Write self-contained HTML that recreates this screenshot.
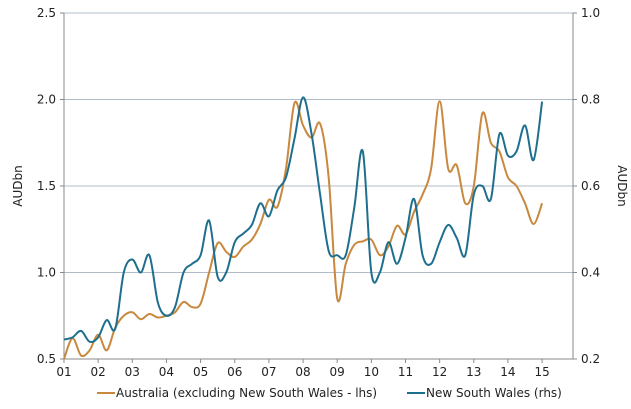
<!DOCTYPE html>
<html><head><meta charset="utf-8"><style>
body{margin:0;background:#fff}
svg text{font-family:"DejaVu Sans","Liberation Sans",sans-serif;font-size:12px;fill:#222}
</style></head><body>
<svg id="chart" width="631" height="404" viewBox="0 0 631 404" xmlns="http://www.w3.org/2000/svg">
<g id="grid"></g>
<g id="axes"></g>
<g id="series"></g>
<text transform="translate(22,186) rotate(-90)" text-anchor="middle">AUDbn</text>
<text transform="translate(618,186) rotate(90)" text-anchor="middle">AUDbn</text>
<g>
<line x1="97" y1="393" x2="115" y2="393" stroke="#c8883e" stroke-width="2"/>
<text x="116" y="397">Australia (excluding New South Wales - lhs)</text>
<line x1="407" y1="393" x2="425" y2="393" stroke="#1e6f8e" stroke-width="2"/>
<text x="426" y="397">New South Wales (rhs)</text>
</g>
</svg>
<script>
const yearLabels=["01","02","03","04","05","06","07","08","09","10","11","12","13","14","15"];
const leftTicks=[0.5,1.0,1.5,2.0,2.5];
const rightTicks=[0.2,0.4,0.6,0.8,1.0];
const ausValues=[0.5,0.62,0.52,0.55,0.64,0.55,0.68,0.75,0.77,0.73,0.76,0.74,0.75,0.77,0.83,0.80,0.82,1.0,1.17,1.12,1.09,1.15,1.19,1.28,1.42,1.38,1.6,1.98,1.85,1.78,1.86,1.55,0.85,1.05,1.16,1.18,1.19,1.10,1.15,1.27,1.22,1.35,1.45,1.6,1.99,1.6,1.62,1.40,1.5,1.92,1.75,1.7,1.55,1.5,1.4,1.28,1.4];
const nswValues=[0.245,0.25,0.265,0.24,0.25,0.29,0.27,0.40,0.43,0.40,0.44,0.33,0.30,0.32,0.40,0.42,0.44,0.52,0.39,0.40,0.47,0.49,0.51,0.56,0.53,0.59,0.62,0.71,0.805,0.72,0.58,0.45,0.44,0.44,0.55,0.68,0.40,0.40,0.47,0.42,0.48,0.57,0.44,0.42,0.47,0.51,0.48,0.44,0.58,0.60,0.57,0.72,0.67,0.68,0.74,0.66,0.795];
const NS="http://www.w3.org/2000/svg";
const L=64,R=573,T=13,B=359;
const xS=t=>L+t*34.15; // t in years since 2001
const yL=v=>B-(v-0.5)/2*(B-T);
const yR=v=>B-(v-0.2)/0.8*(B-T);
function mk(tag,attrs,parent){const e=document.createElementNS(NS,tag);for(const k in attrs)e.setAttribute(k,attrs[k]);parent.appendChild(e);return e;}
const grid=document.getElementById('grid'),axes=document.getElementById('axes'),ser=document.getElementById('series');
leftTicks.forEach((v,i)=>{
 if(i>0){const g=mk('line',{x1:L,x2:R,y1:yL(v),y2:yL(v),stroke:'#b0bcc8','stroke-width':1},grid);
 
 }
 const t=mk('text',{x:L-8,y:yL(v)+4,'text-anchor':'end'},axes);t.textContent=v.toFixed(1);
 
 
 mk('line',{x1:L-4,x2:L,y1:yL(v),y2:yL(v),stroke:'#888'},axes);
});
rightTicks.forEach(v=>{
 const t=mk('text',{x:R+8,y:yR(v)+4},axes);t.textContent=v.toFixed(1);
 
 
 mk('line',{x1:R,x2:R+4,y1:yR(v),y2:yR(v),stroke:'#888'},axes);
});
mk('line',{x1:L,x2:L,y1:T,y2:B,stroke:'#888'},axes);
mk('line',{x1:R,x2:R,y1:T,y2:B,stroke:'#888'},axes);
mk('line',{x1:L,x2:R,y1:B,y2:B,stroke:'#888'},axes);
yearLabels.forEach((s,i)=>{
 mk('line',{x1:xS(i),x2:xS(i),y1:B,y2:B+4,stroke:'#888'},axes);
 const t=mk('text',{x:xS(i),y:B+17,'text-anchor':'middle'},axes);t.textContent=s;
 
 
});
function smooth(vals,yf){
 const p=vals.map((v,i)=>[xS(i/4),yf(v)]);
 let d='M'+p[0][0]+','+p[0][1];
 for(let i=0;i<p.length-1;i++){
  const p0=p[Math.max(0,i-1)],p1=p[i],p2=p[i+1],p3=p[Math.min(p.length-1,i+2)];
  const c1=[p1[0]+(p2[0]-p0[0])/6,p1[1]+(p2[1]-p0[1])/6];
  const c2=[p2[0]-(p3[0]-p1[0])/6,p2[1]-(p3[1]-p1[1])/6];
  d+=`C${c1[0]},${c1[1]} ${c2[0]},${c2[1]} ${p2[0]},${p2[1]}`;
 }
 return d;
}
const a=mk('path',{d:smooth(ausValues,yL),fill:'none',stroke:'#c8883e','stroke-width':2},ser);


const n=mk('path',{d:smooth(nswValues,yR),fill:'none',stroke:'#1e6f8e','stroke-width':2},ser);


</script>
</body></html>
